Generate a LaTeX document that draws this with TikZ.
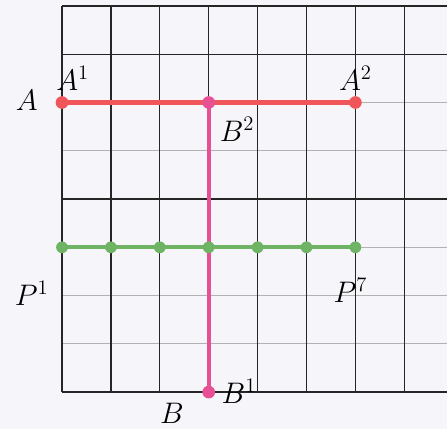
\documentclass[tikz,border=0pt]{standalone}
\usepackage{amsmath}
\usepackage{amssymb}
\usepackage{xcolor}
\usepackage{tikz}
\usetikzlibrary{positioning}

\definecolor{paper}{RGB}{246,246,250}
\definecolor{segred}{RGB}{240,85,90}
\definecolor{segpink}{RGB}{232,80,150}
\definecolor{seggreen}{RGB}{110,180,100}

\begin{document}
\begin{tikzpicture}[x=1cm, y=0.987cm,
  reddot/.style={circle, fill=segred, inner sep=0pt, minimum size=2.6mm},
  pinkdot/.style={circle, fill=segpink, inner sep=0pt, minimum size=2.6mm},
  greendot/.style={circle, fill=seggreen, inner sep=0pt, minimum size=2.4mm},
  lbl/.style={font=\LARGE}]
\fill[paper] (-1.268,-0.767) rectangle (7.873,8.124);
\useasboundingbox (-1.268,-0.767) rectangle (7.873,8.124);
% grid
\foreach \r in {1,2,3,5,6} \draw[gray!60, line width=0.6pt] (0,\r) -- (7.873,\r);
\foreach \r in {0,4,7,8} \draw[black!85, line width=0.7pt] (0,\r) -- (7.873,\r);
\foreach \c in {0,...,7} \draw[black!85, line width=0.7pt] (\c,0) -- (\c,8);
% points
\coordinate (A1) at (0,6);
\coordinate (A2) at (6,6);
\coordinate (B1) at (3,0);
\coordinate (B2) at (3,6);
\foreach \i in {1,...,7} \coordinate (P\i) at ({\i-1},3);
% segments
\draw[seggreen, line width=2.5pt] (P1) -- (P7);
\draw[segred, line width=2.9pt] (A1) -- (A2);
\draw[segpink, line width=2.3pt] (B2) -- (B1);
\foreach \i in {1,...,7} \node[greendot] (p\i) at (P\i) {};
\node[reddot] (a1) at (A1) {};
\node[reddot] (a2) at (A2) {};
\node[pinkdot] (b1) at (B1) {};
\node[pinkdot] (b2) at (B2) {};
% labels
\node[lbl] (labA) at (-0.72,6.05) {$A$};
\node[lbl] (labA1) at (0.22,6.5) {$A^1$};
\node[lbl] (labA2) at (6.0,6.5) {$A^2$};
\node[lbl] (labB2) at (3.58,5.45) {$B^2$};
\node[lbl] (labP1) at (-0.62,2.05) {$P^1$};
\node[lbl] (labP7) at (5.9,2.1) {$P^7$};
\node[lbl] (labB1) at (3.62,0.02) {$B^1$};
\node[lbl] (labB) at (2.25,-0.44) {$B$};
\end{tikzpicture}
\end{document}
